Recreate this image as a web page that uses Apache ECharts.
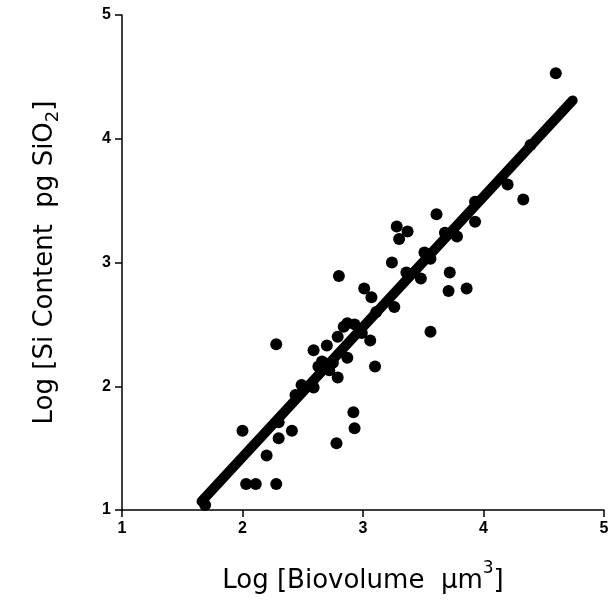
<!DOCTYPE html>
<html>
<head>
<meta charset="utf-8">
<script src="https://cdn.jsdelivr.net/npm/echarts@6/dist/echarts.min.js"></script>
<style>html,body{margin:0;padding:0;background:#fff}#c{width:612px;height:603px}</style>
</head>
<body>
<div id="c"></div>
<script>
var xTicks = [1, 2, 3, 4, 5];
var yTicks = [1, 2, 3, 4, 5];
var logBiovolume = [1.69,2.00,2.03,2.11,2.28,2.20,2.30,2.41,2.30,2.28,2.44,2.49,2.59,2.59,2.63,2.72,2.70,2.79,2.79,2.87,2.87,2.93,2.80,2.78,2.92,2.93,2.99,3.06,3.10,3.01,3.07,3.11,3.26,3.24,3.28,3.37,3.30,3.36,3.48,3.51,3.56,3.56,3.61,3.68,3.78,3.72,3.71,3.86,3.93,3.93,4.20,4.33,4.39,4.60,2.84,2.75,2.66];
var logSiContent = [1.04,1.64,1.21,1.21,1.21,1.44,1.58,1.64,1.71,2.34,1.93,2.01,1.99,2.29,2.16,2.13,2.33,2.07,2.40,2.23,2.51,2.50,2.89,1.54,1.79,1.66,2.43,2.37,2.16,2.79,2.72,2.60,2.64,3.00,3.29,3.25,3.19,2.92,2.87,3.08,3.03,2.44,3.39,3.24,3.21,2.92,2.77,2.79,3.33,3.49,3.63,3.51,3.95,4.53,2.48,2.19,2.20];
var fitX = [1.66, 4.74];
var fitY = [1.07, 4.31];

var points = logBiovolume.map(function (v, i) { return [v, logSiContent[i]]; });
var fit = fitX.map(function (v, i) { return [v, fitY[i]]; });

var chart = echarts.init(document.getElementById('c'));
var labelFont = { color: '#000', fontFamily: 'Liberation Sans', fontWeight: 'bold', fontSize: 16 };
chart.setOption({
  animation: false,
  backgroundColor: '#fff',
  grid: { left: 122, right: 8, top: 15, bottom: 93 },
  xAxis: {
    type: 'value', min: xTicks[0], max: xTicks[xTicks.length - 1], interval: 1,
    axisLine: { lineStyle: { color: '#000', width: 1.5 } },
    axisTick: { show: true, length: 7, lineStyle: { color: '#000', width: 1.5 } },
    splitLine: { show: false },
    axisLabel: Object.assign({ margin: 11 }, labelFont),
    name: '{t|Log [Biovolume  μm}{s|3}{t|]}',
    nameLocation: 'middle', nameGap: 50,
    nameTextStyle: { rich: {
      t: { fontFamily: 'DejaVu Sans', fontSize: 26, color: '#000', verticalAlign: 'bottom', lineHeight: 34 },
      s: { fontFamily: 'DejaVu Sans', fontSize: 17, color: '#000', verticalAlign: 'top', lineHeight: 34, padding: [0, 0, 14, 0] }
    } }
  },
  yAxis: {
    type: 'value', min: yTicks[0], max: yTicks[yTicks.length - 1], interval: 1,
    axisLine: { show: true, lineStyle: { color: '#000', width: 1.5 } },
    axisTick: { show: true, length: 7, lineStyle: { color: '#000', width: 1.5 } },
    splitLine: { show: false },
    axisLabel: Object.assign({ margin: 11 }, labelFont),
    name: '{t|Log [Si Content  pg SiO}{s|2}{t|]}',
    nameLocation: 'middle', nameGap: 60,
    nameTextStyle: { rich: {
      t: { fontFamily: 'DejaVu Sans', fontSize: 26, color: '#000', lineHeight: 34 },
      s: { fontFamily: 'DejaVu Sans', fontSize: 18, color: '#000', lineHeight: 34, padding: [16, 0, 0, 0] }
    } }
  },
  series: [
    { type: 'line', data: fit, showSymbol: false, symbol: 'none',
      lineStyle: { color: '#000', width: 10, cap: 'round' }, z: 2 },
    { type: 'scatter', data: points, symbol: 'circle', symbolSize: 12,
      itemStyle: { color: '#000', opacity: 1 }, z: 3 }
  ]
});
</script>
</body>
</html>
